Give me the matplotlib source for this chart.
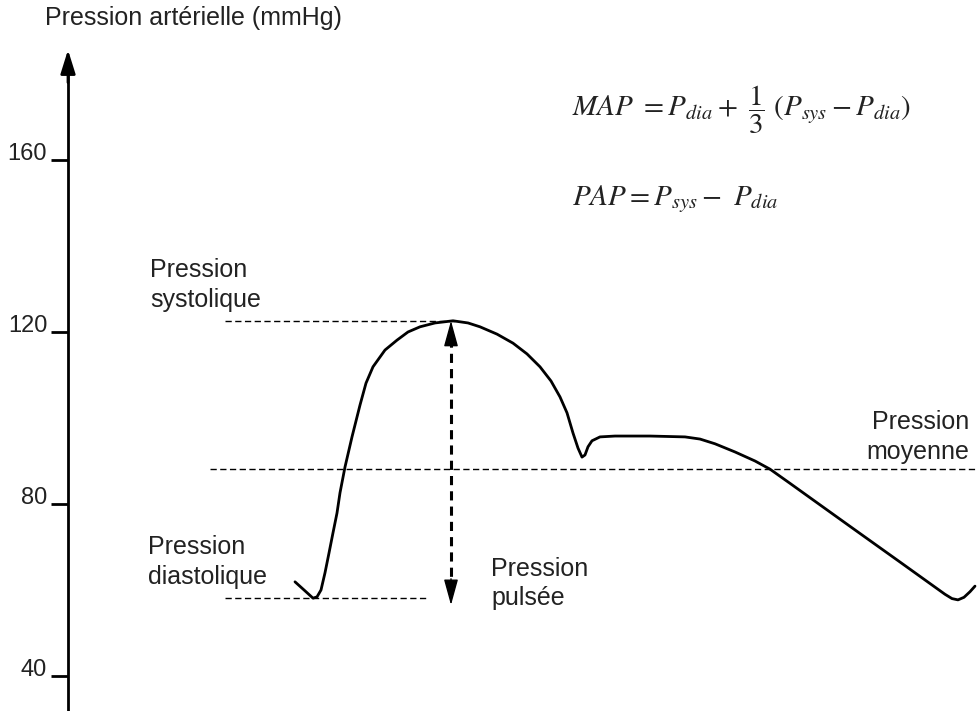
import numpy as np
import matplotlib.pyplot as plt

plt.rcParams['font.family'] = ['Liberation Sans', 'DejaVu Sans']
plt.rcParams['mathtext.fontset'] = 'stix'

# Pressure wave over one cardiac cycle (arbitrary time units, mmHg)
t = [295, 305, 313, 317, 321, 325, 329, 333, 337, 340, 345, 352, 360, 366, 373,
     385, 397, 408, 420, 435, 453, 468, 480, 497, 513, 527, 540, 551, 560, 567,
     573, 578, 582, 585, 588, 592, 600, 615, 650, 685, 700, 715, 735, 755, 770,
     790, 850, 900, 930, 945, 952, 958, 964, 970, 975]
p = [61.9, 59.8, 58.1, 58.4, 60.0, 64.0, 68.6, 73.3, 77.9, 82.6, 88.6, 95.6,
     103.0, 108.1, 111.9, 115.8, 118.1, 120.0, 121.2, 122.1, 122.6, 122.1, 121.2,
     119.5, 117.4, 114.9, 111.9, 108.6, 104.9, 101.2, 96.5, 93.0, 90.9, 91.4,
     93.3, 94.7, 95.6, 95.8, 95.8, 95.6, 95.1, 94.0, 92.1, 90.0, 88.1, 84.8,
     74.8, 66.5, 61.5, 59.0, 58.0, 57.7, 58.3, 59.6, 60.9]

p_sys = 122.6
p_dia = 58.1
p_mean = 88.1
t_peak = 451

yticks = [40, 80, 120, 160]

fig = plt.figure(figsize=(9.78, 7.11), dpi=100)
ax = fig.add_axes([0, 0, 1, 1])
ax.set_xlim(0, 978)
ax.set_ylim(31.86, 197.2)
txt_col = '#222222'

# y axis with arrow
ax.spines[['top', 'right', 'bottom']].set_visible(False)
ax.spines['left'].set_position(('data', 68))
ax.spines['left'].set_linewidth(2)
ax.spines['left'].set_bounds(31.86, 180)
ax.annotate('', xy=(68, 185.6), xytext=(68, 178),
            arrowprops=dict(arrowstyle='-|>,head_length=0.8,head_width=0.25',
                            color='black', lw=2, mutation_scale=18, shrinkA=0, shrinkB=0))
ax.set_xticks([])
ax.set_yticks(yticks)
ax.set_yticklabels([str(v) for v in yticks], fontsize=17, color=txt_col, va='baseline')
ax.tick_params(axis='y', direction='out', length=12, width=2, pad=3)
ax.text(45, 193.0, 'Pression artérielle (mmHg)', fontsize=18, color=txt_col,
        ha='left', va='center')

# reference lines
dash = dict(color='black', lw=1, linestyle=(0, (4.5, 2.5)))
ax.plot([225, 455], [p_sys, p_sys], **dash)
ax.plot([225, 427], [p_dia, p_dia], **dash)
ax.plot([210, 978], [p_mean, p_mean], **dash)

# pulse pressure double arrow
ax.plot([t_peak, t_peak], [p_sys - 4, p_dia + 4], color='black', lw=2.2,
        linestyle=(0, (3, 2)))
head = dict(arrowstyle='-|>,head_length=0.8,head_width=0.22', color='black',
            lw=1, mutation_scale=20, shrinkA=0, shrinkB=0)
ax.annotate('', xy=(t_peak, p_sys), xytext=(t_peak, p_sys - 6), arrowprops=head)
ax.annotate('', xy=(t_peak, p_dia - 1.6), xytext=(t_peak, p_dia + 4.5), arrowprops=head)

# curve
ax.plot(t, p, color='black', lw=2, solid_joinstyle='round', solid_capstyle='round')

# labels
lab = dict(fontsize=18, color=txt_col, va='center', linespacing=1.3)
ax.text(150, 131.0, 'Pression\nsystolique', ha='left', **lab)
ax.text(148, 66.5, 'Pression\ndiastolique', ha='left', **lab)
ax.text(491, 61.5, 'Pression\npulsée', ha='left', **lab)
ax.text(969, 95.6, 'Pression\nmoyenne', ha='right', **lab)

ax.text(572, 171.6, r'$MAP\ =P_{dia}+\ \dfrac{1}{3}\ (P_{sys}-P_{dia})$',
        fontsize=21, color=txt_col, ha='left', va='center')
ax.text(572, 151.0, r'$PAP=P_{sys}-\ P_{dia}$',
        fontsize=21, color=txt_col, ha='left', va='center')

fig.savefig('out.png', dpi=100)
